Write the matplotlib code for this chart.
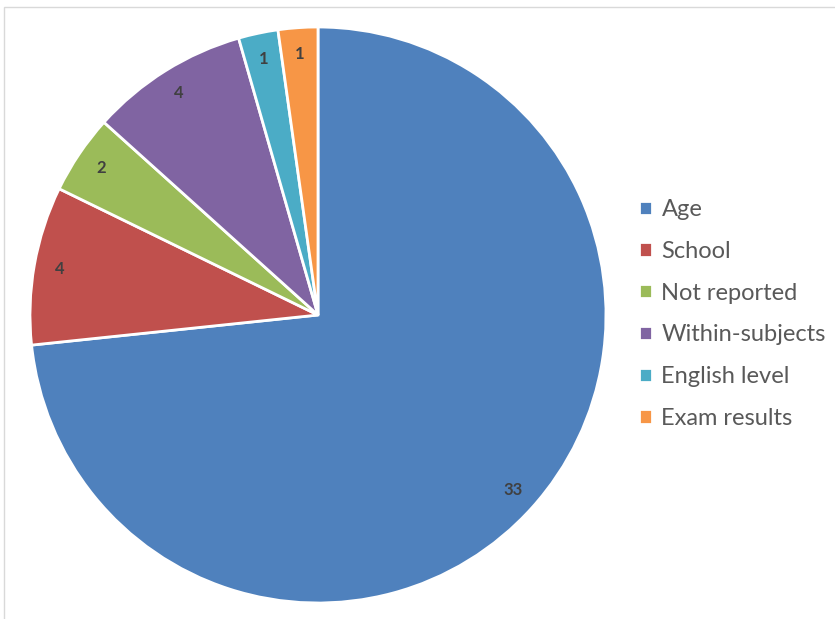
import matplotlib.pyplot as plt
from matplotlib.patches import Rectangle

categories = ['Age', 'School', 'Not reported', 'Within-subjects', 'English level', 'Exam results']
counts = [33, 4, 2, 4, 1, 1]
colors = ['#4F81BD', '#C0504D', '#9BBB59', '#8064A2', '#4BACC6', '#F79646']

plt.rcParams['font.family'] = ['Lato', 'DejaVu Sans']

fig = plt.figure(figsize=(8.35, 6.19), dpi=100)
ax = fig.add_axes([30 / 835, 16 / 619, 576 / 835, 576 / 619])

total = sum(counts)
wedges, texts, autotexts = ax.pie(
    counts, colors=colors, startangle=90, counterclock=False,
    autopct=lambda p: '%d' % round(p * total / 100),
    pctdistance=0.91,
    wedgeprops=dict(edgecolor='white', linewidth=2),
    textprops=dict(color='#404040', fontsize=12, fontweight='bold'),
)
ax.set_xlim(-1, 1)
ax.set_ylim(-1, 1)
ax.set_aspect('equal')

# thin chart border
fig.patches.append(Rectangle((4 / 835, -0.05), 1.0, 1.05 - 7 / 619, transform=fig.transFigure,
                             fill=False, edgecolor='#d9d9d9', linewidth=1))

leg = fig.legend(wedges, categories, loc='center left', bbox_to_anchor=(639 / 835, 1 - 314 / 619),
                 frameon=False, fontsize=17, labelcolor='#595959',
                 handlelength=0.55, handleheight=0.55, handletextpad=0.4,
                 labelspacing=0.88, borderpad=0, borderaxespad=0)

fig.savefig('out.png', dpi=100)
